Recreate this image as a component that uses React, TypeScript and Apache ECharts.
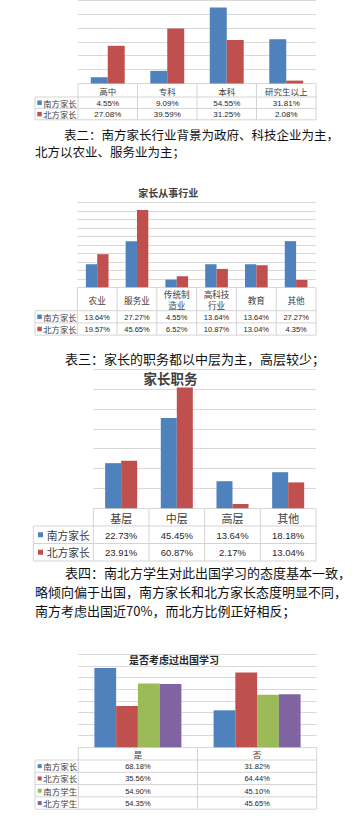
import React, { useEffect, useRef } from "react";
import * as echarts from "echarts";

// ---------- data ----------
const c1Categories = ["高中", "专科", "本科", "研究生以上"];
const c1South = [4.55, 9.09, 54.55, 31.81];
const c1North = [27.08, 39.59, 31.25, 2.08];

const c2Categories = ["农业", "服务业", "传统制造业", "高科技行业", "教育", "其他"];
const c2South = [13.64, 27.27, 4.55, 13.64, 13.64, 27.27];
const c2North = [19.57, 45.65, 6.52, 10.87, 13.04, 4.35];

const c3Categories = ["基层", "中层", "高层", "其他"];
const c3South = [22.73, 45.45, 13.64, 18.18];
const c3North = [23.91, 60.87, 2.17, 13.04];

const c4Categories = ["是", "否"];
const c4SouthParent = [68.18, 31.82];
const c4NorthParent = [35.56, 64.44];
const c4SouthStudent = [54.9, 45.1];
const c4NorthStudent = [54.35, 45.65];

const parentNames = ["南方家长", "北方家长"];
const allNames = ["南方家长", "北方家长", "南方学生", "北方学生"];

const title2 = "家长从事行业";
const title3 = "家长职务";
const title4 = "是否考虑过出国学习";

const para1 = ["表二：南方家长行业背景为政府、科技企业为主，", "北方以农业、服务业为主；"];
const para2 = ["表三：家长的职务都以中层为主，高层较少；"];
const para3 = [
  "表四：南北方学生对此出国学习的态度基本一致，",
  "略倾向偏于出国，南方家长和北方家长态度明显不同，",
  "南方考虑出国近70%，而北方比例正好相反；",
];

// ---------- styles ----------
const BLUE = "#4F81BD";
const RED = "#C0504D";
const GREEN = "#9BBB59";
const PURPLE = "#8064A2";
const GRIDLINE = "#D9D9D9";
const BORDER = "#D4D4D4";
const CJK = '"Noto Sans CJK SC", "Noto Sans", sans-serif';
const NUM = '"Liberation Sans", Arial, sans-serif';

type Cfg = {
  left: number;
  right: number;
  top: number;
  baseline: number;
  max: number;
  interval: number;
  catGap: string;
  catBottom: number;
  rowH: number;
  legendLeft: number;
  sqX: number;
  sq: number;
  nameX: number;
  catFont: number;
  nameFont: number;
  valFont: number;
  wrap?: number;
  catLineH?: number;
};

const cfgs: Cfg[] = [
  { left: 78, right: 316, top: -32.3, baseline: 83.5, max: 60, interval: 10, catGap: "43%", catBottom: 97, rowH: 11.4, legendLeft: 35, sqX: 37.3, sq: 4.5, nameX: 43.3, catFont: 8.5, nameFont: 8.3, valFont: 8 },
  { left: 77.3, right: 316, top: 202.7, baseline: 287.3, max: 50, interval: 5, catGap: "43%", catBottom: 310.7, rowH: 12.2, legendLeft: 35, sqX: 37.3, sq: 4.5, nameX: 43.3, catFont: 8.6, nameFont: 8.3, valFont: 7.5, wrap: 3, catLineH: 11 },
  { left: 93.3, right: 316, top: 369.3, baseline: 508.3, max: 70, interval: 10, catGap: "42.5%", catBottom: 526, rowH: 17.5, legendLeft: 33.3, sqX: 38, sq: 5, nameX: 46.7, catFont: 11, nameFont: 10.8, valFont: 9.5 },
  { left: 78.3, right: 316.7, top: 654.3, baseline: 747.3, max: 80, interval: 10, catGap: "27%", catBottom: 760, rowH: 12.3, legendLeft: 35, sqX: 37.7, sq: 4, nameX: 43.3, catFont: 8.5, nameFont: 8.5, valFont: 7.5 },
];

type Row = { name: string; color: string; values: number[] };

function line(x1: number, y1: number, x2: number, y2: number) {
  return {
    type: "line",
    silent: true,
    shape: { x1, y1, x2, y2 },
    style: { stroke: BORDER, lineWidth: 1 },
  };
}

function text(str: string, x: number, y: number, size: number, opts: any = {}) {
  const align = opts.align || "center";
  return {
    type: "text",
    silent: true,
    x,
    y,
    style: {
      text: str,
      fill: opts.color || "#404040",
      fontSize: size,
      fontFamily: opts.family || CJK,
      fontWeight: opts.weight || "normal",
      align,
      textAlign: align,
      verticalAlign: "middle",
      textVerticalAlign: "middle",
      lineHeight: opts.lineHeight,
    },
  };
}

function splitLabel(s: string, n?: number) {
  if (!n || s.length <= n) return [s];
  const parts: string[] = [];
  for (let i = 0; i < s.length; i += n) parts.push(s.slice(i, i + n));
  return parts;
}

function table(cfg: Cfg, cats: string[], rows: Row[]) {
  const els: any[] = [];
  const n = cats.length;
  const cw = (cfg.right - cfg.left) / n;
  const bottom = cfg.catBottom + rows.length * cfg.rowH;
  for (let i = 0; i <= n; i++) {
    const x = cfg.left + i * cw;
    els.push(line(x, cfg.baseline, x, bottom));
  }
  els.push(line(cfg.legendLeft, cfg.catBottom, cfg.legendLeft, bottom));
  for (let r = 0; r <= rows.length; r++) {
    const y = cfg.catBottom + r * cfg.rowH;
    els.push(line(cfg.legendLeft, y, cfg.right, y));
  }
  const catY = (cfg.baseline + cfg.catBottom) / 2;
  cats.forEach((c, i) => {
    const parts = splitLabel(c, cfg.wrap);
    const lh = cfg.catLineH || cfg.catFont * 1.2;
    parts.forEach((p, k) => {
      const y = catY + 0.5 + (k - (parts.length - 1) / 2) * lh;
      els.push(text(p, cfg.left + (i + 0.5) * cw, y, cfg.catFont, { color: "#404040" }));
    });
  });
  rows.forEach((row, r) => {
    const cy = cfg.catBottom + (r + 0.5) * cfg.rowH;
    els.push({
      type: "rect",
      silent: true,
      shape: { x: cfg.sqX, y: cy - cfg.sq / 2, width: cfg.sq, height: cfg.sq },
      style: { fill: row.color },
    });
    els.push(text(row.name, cfg.nameX, cy, cfg.nameFont, { align: "left", color: "#404040" }));
    row.values.forEach((v, i) => {
      els.push(
        text(v.toFixed(2) + "%", cfg.left + (i + 0.5) * cw, cy + 0.3, cfg.valFont, {
          family: NUM,
          color: "#262626",
        })
      );
    });
  });
  return els;
}

function paragraph(lines: string[], firstX: number, otherX: number, y0: number, lh: number, size: number) {
  return lines.map((l, i) =>
    text(l, i === 0 ? firstX : otherX, y0 + i * lh, size, { align: "left", color: "#111111" })
  );
}

export default function App() {
  const ref = useRef<HTMLDivElement>(null);
  useEffect(() => {
    if (!ref.current) return;
    const chart = echarts.init(ref.current, undefined, { renderer: "svg" });

    const datasets: { cats: string[]; rows: Row[] }[] = [
      {
        cats: c1Categories,
        rows: [
          { name: parentNames[0], color: BLUE, values: c1South },
          { name: parentNames[1], color: RED, values: c1North },
        ],
      },
      {
        cats: c2Categories,
        rows: [
          { name: parentNames[0], color: BLUE, values: c2South },
          { name: parentNames[1], color: RED, values: c2North },
        ],
      },
      {
        cats: c3Categories,
        rows: [
          { name: parentNames[0], color: BLUE, values: c3South },
          { name: parentNames[1], color: RED, values: c3North },
        ],
      },
      {
        cats: c4Categories,
        rows: [
          { name: allNames[0], color: BLUE, values: c4SouthParent },
          { name: allNames[1], color: RED, values: c4NorthParent },
          { name: allNames[2], color: GREEN, values: c4SouthStudent },
          { name: allNames[3], color: PURPLE, values: c4NorthStudent },
        ],
      },
    ];

    const grid = cfgs.map((c) => ({
      left: c.left,
      top: c.top,
      width: c.right - c.left,
      height: c.baseline - c.top,
      containLabel: false,
    }));
    const xAxis = cfgs.map((c, i) => ({
      type: "category",
      gridIndex: i,
      data: datasets[i].cats,
      axisLine: { show: false },
      axisTick: { show: false },
      axisLabel: { show: false },
      splitLine: { show: false },
    }));
    const yAxis = cfgs.map((c, i) => ({
      type: "value",
      gridIndex: i,
      min: 0,
      max: c.max,
      interval: c.interval,
      axisLine: { show: false },
      axisTick: { show: false },
      axisLabel: { show: false },
      splitLine: { show: true, lineStyle: { color: GRIDLINE, width: 1 } },
    }));
    const series: any[] = [];
    datasets.forEach((d, i) => {
      d.rows.forEach((row) => {
        series.push({
          type: "bar",
          name: row.name,
          xAxisIndex: i,
          yAxisIndex: i,
          data: row.values,
          barGap: "0%",
          barCategoryGap: cfgs[i].catGap,
          itemStyle: { color: row.color },
          silent: true,
        });
      });
    });

    const graphics: any[] = [];
    datasets.forEach((d, i) => graphics.push(...table(cfgs[i], d.cats, d.rows)));
    graphics.push(text(title2, 168.3, 192, 10, { weight: "bold", color: "#404040" }));
    graphics.push(text(title3, 170.5, 378.3, 13.5, { weight: "bold", color: "#404040" }));
    graphics.push(text(title4, 174, 659.3, 10, { weight: "bold", color: "#262626" }));
    graphics.push(...paragraph(para1, 64, 35, 134, 17, 12.5));
    graphics.push(...paragraph(para2, 65, 35, 358.3, 19, 13));
    graphics.push(...paragraph(para3, 65, 35, 572.7, 19, 13));

    chart.setOption({
      animation: false,
      backgroundColor: "#ffffff",
      grid,
      xAxis,
      yAxis,
      series,
      graphic: { elements: graphics },
    });
    return () => chart.dispose();
  }, []);
  return (
    <div
      ref={ref}
      style={{ position: "absolute", left: 0, top: 0, width: 362, height: 823, background: "#fff" }}
    />
  );
}
